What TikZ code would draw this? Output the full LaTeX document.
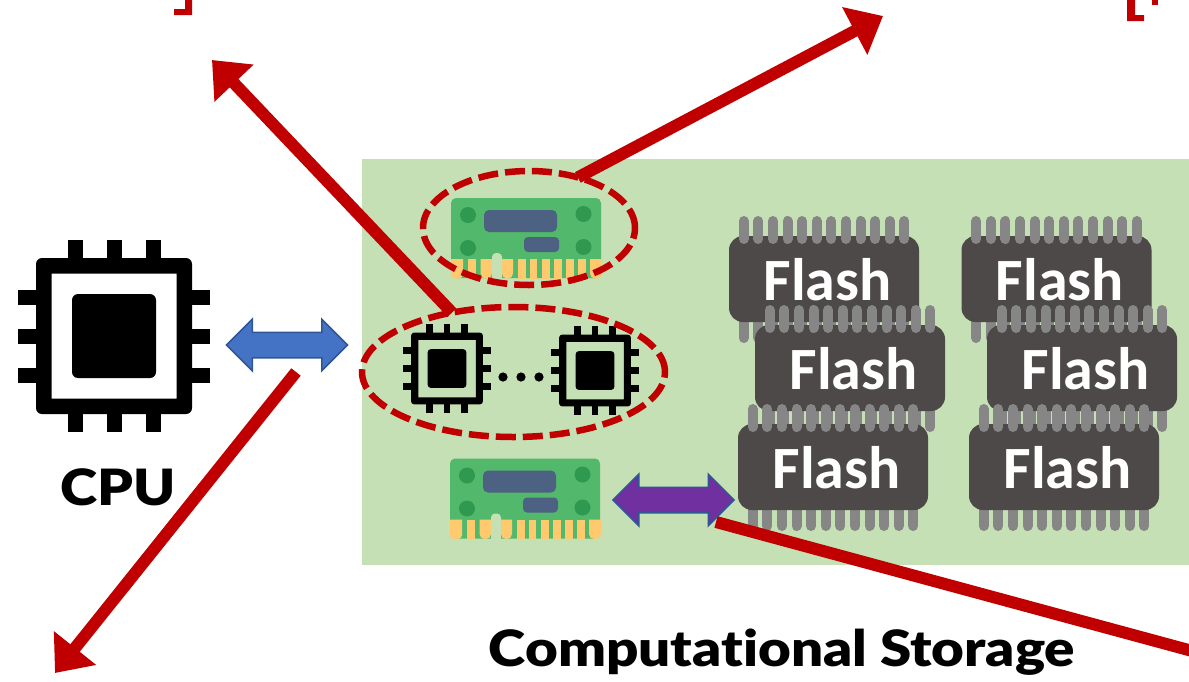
\documentclass[tikz,border=0pt]{standalone}
\usepackage{fontspec}
\setmainfont{Carlito}
\newfontfamily\labelfont[BoldFont={Lato Black}, BoldFeatures={FakeStretch=1.13}, Ligatures=NoCommon]{Lato}
\usetikzlibrary{arrows.meta}
\usetikzlibrary{positioning, shapes.geometric, shapes.arrows}

\definecolor{boardbg}{HTML}{C5E0B4}
\definecolor{ringred}{HTML}{C00000}
\definecolor{flashbody}{HTML}{4D4948}
\definecolor{flashpin}{HTML}{868686}
\definecolor{dimmgreen}{HTML}{52B86C}
\definecolor{dimmdot}{HTML}{2F9950}
\definecolor{dimmchip}{HTML}{4D6283}
\definecolor{dimmgold}{HTML}{FFC96E}
\definecolor{linkblue}{HTML}{4472C4}
\definecolor{linkpurple}{HTML}{7030A0}
\definecolor{linkedge}{HTML}{2F5597}

\tikzset{
    ringmark/.style={ellipse, draw=ringred, line width=6.5pt, dash pattern=on 20pt off 7pt, inner sep=0pt, outer sep=0pt},
    redline/.style={draw=ringred, line width=12pt},
    redarrow/.style={redline, -{Triangle[length=32pt, width=52pt]}},
    linkarrow/.style={double arrow, draw=linkedge, line width=1.5pt, inner xsep=0pt, inner ysep=12pt, minimum width=51pt, double arrow head extend=13pt, minimum height=121pt},
    biglabel/.style={font=\labelfont\bfseries\fontsize{50}{52}\selectfont, text=black, inner sep=0pt},
    flashlabel/.style={font=\bfseries\fontsize{60}{62}\selectfont, text=white, inner sep=0pt},
    chipicon/.pic={
        \fill[even odd rule, rounded corners=#1pt] (-78,-78) rectangle (78,78) [sharp corners] (-62.5,-62.5) rectangle (62.5,62.5);
        \fill[rounded corners=#1pt] (-42,-42) rectangle (42,42);
        \foreach \offs in {-39,0,39} {
            \fill (\offs-7.5,-96) rectangle (\offs+7.5,-77);
            \fill (\offs-7.5,77) rectangle (\offs+7.5,96);
            \fill (-96,\offs-7.5) rectangle (-77,\offs+7.5);
            \fill (77,\offs-7.5) rectangle (96,\offs+7.5);
        }
    },
    flashchip/.pic={
        \foreach \i in {0,...,11} {
            \draw[flashpin, line width=10pt, line cap=round] (-80.3+14.6*\i,39) -- (-80.3+14.6*\i,59);
        }
        \fill[flashbody, rounded corners=14pt] (-95,-43) rectangle (95,43);
        \foreach \i in {0,...,11} {
            \draw[flashpin, line width=10pt, line cap=round] (-80.3+14.6*\i,-58) -- (-80.3+14.6*\i,-40);
        }
        \node[flashlabel] (-label) at (3.5,1) {Flash};
    },
    dimmcard/.pic={
        \fill[dimmgreen, rounded corners=5pt] (0,0) rectangle (150,80);
        \foreach \px/\py in {17/17, 17/50, 132.5/16, 132.5/49} {
            \fill[dimmdot] (\px,\py) circle (8);
        }
        \fill[dimmchip, rounded corners=5pt] (33,12) rectangle (106,34);
        \fill[dimmchip, rounded corners=4pt] (73,39) rectangle (108,54);
        \foreach \pa/\pb/\pr in {0/12/4, 17/24.5/0, 29.5/41/5, 51/62/5, 67/74.5/0, 79/86/0, 91/98.5/0, 103/110.5/0, 115/122.5/0, 127/134.5/0, 139/151/5} {
            \fill[dimmgold] (\pa,61) -- (\pb,61) [rounded corners=\pr pt] -- (\pb,80.5) -- (\pa,80.5) [sharp corners] -- cycle;
        }
        \fill[boardbg, rounded corners=4pt] (41,55) rectangle (51,84);
    }
}

\begin{document}
\begin{tikzpicture}[x=1pt, y=-1pt]
    \useasboundingbox (0,0) rectangle (1189,681);
    \clip (0,0) rectangle (1189,681);

    % storage board
    \fill[boardbg] (362,159) rectangle (1189,565);

    % cropped brackets along the top edge
    \fill[ringred] (185,0) -- (192,0) -- (192,15) -- (174,15) -- (174,9) -- (185,9) -- cycle;
    \fill[ringred] (1127,0) -- (1135,0) -- (1135,15) -- (1144,15) -- (1144,21) -- (1127,21) -- cycle;
    \fill[ringred] (1152,0) rectangle (1158,4.5);

    % host side
    \pic at (114,336) {chipicon=6};
    \node[biglabel] (cpulabel) at (118,487) {CPU};
    \node[linkarrow, fill=linkblue] (hostlink) at (287,345) {};

    % compute elements
    \pic at (451,198) {dimmcard};
    \pic[scale=0.46] at (447,368.5) {chipicon=3};
    \pic[scale=0.46] at (595,370.5) {chipicon=3};
    \foreach \dotx in {503,521,539} {
        \fill (\dotx,377) circle (4.6);
    }
    \pic at (450,458.5) {dimmcard};
    \node[linkarrow, fill=linkpurple] (flashlink) at (673.5,500) {};

    % flash packages, back to front
    \pic (flasha) at (824,279) {flashchip};
    \pic (flashb) at (1056.5,279) {flashchip};
    \pic (flashc) at (850,368) {flashchip};
    \pic (flashd) at (1082,368) {flashchip};
    \pic (flashe) at (833,467) {flashchip};
    \pic (flashf) at (1064,467) {flashchip};

    \node[ringmark, minimum width=212pt, minimum height=114pt] (upperring) at (529,228) {};
    \node[ringmark, minimum width=303pt, minimum height=130pt] (lowerring) at (513.5,372) {};

    \node[biglabel] (storagelabel) at (782,652) {Computational Storage};

    % free ends of the red arrows
    \coordinate (topleft) at (212,60);
    \coordinate (topright) at (883,16);
    \coordinate (bottomleft) at (55,673);
    \coordinate (hostdrop) at (296,372);
    \coordinate (flashdrop) at (716,522);
    \coordinate (rightedge) at (1196,652);

    \draw[redarrow] (lowerring.136) -- (topleft);
    \draw[redarrow] (upperring.46) -- (topright);
    \draw[redarrow] (hostdrop) -- (bottomleft);
    \draw[redline] (flashdrop) -- (rightedge);
\end{tikzpicture}
\end{document}
